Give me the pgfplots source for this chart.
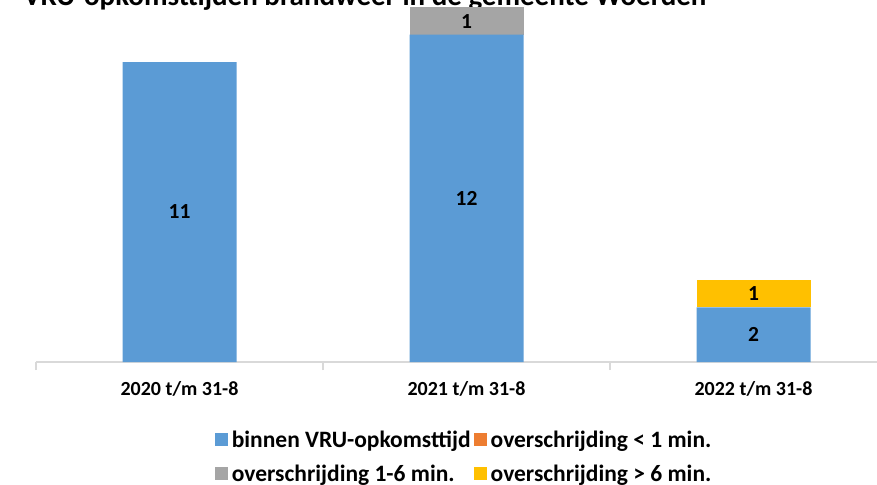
\documentclass[border=0pt]{standalone}
\usepackage{pgfplots}
\pgfplotsset{compat=1.18}
\usepackage{fontspec}
\setmainfont{Carlito}
\definecolor{cblue}{HTML}{5B9BD5}
\definecolor{corange}{HTML}{ED7D31}
\definecolor{cgrey}{HTML}{A5A5A5}
\definecolor{cyellow}{HTML}{FFC000}
\definecolor{caxis}{HTML}{D9D9D9}
\begin{document}
\begin{tikzpicture}[x=1pt,y=1pt]
\useasboundingbox (-36,-122) rectangle (841,362);
\clip (-36,-122) rectangle (841,362);
\node[anchor=base, font=\bfseries\fontsize{29}{34}\selectfont] at (329,356) {VRU-opkomsttijden brandweer in de gemeente Woerden};
\begin{axis}[
  at={(0pt,0pt)}, anchor=south west,
  scale only axis, width=861pt, height=381.8pt,
  ybar stacked, bar width=114pt,
  xmin=-0.5, xmax=2.5, ymin=0, ymax=14,
  axis x line*=bottom, axis y line=none,
  x axis line style={draw=caxis, line width=1.3pt, -},
  xtick={0,1,2},
  xticklabels={2020 t/m 31-8, 2021 t/m 31-8, 2022 t/m 31-8},
  major tick length=0pt,
  extra x ticks={-0.5,0.5,1.5,2.5},
  extra x tick labels={},
  extra x tick style={major tick length=8pt, tick align=outside, tick style={draw=caxis, line width=1.3pt}},
  xticklabel style={font=\bfseries\fontsize{20}{24}\selectfont, yshift=-16pt},
  /pgf/number format/assume math mode=true,
  point meta=explicit,
  nodes near coords={\pgfmathfloatifflags{\pgfplotspointmeta}{0}{}{\pgfmathprintnumber[int detect]{\pgfplotspointmeta}}},
  every node near coord/.append style={anchor=center, font=\bfseries\fontsize{21.5}{24}\selectfont},
  legend columns=2,
  legend cell align=left,
  legend style={draw=none, fill=none, at={(0.204,-0.17)}, anchor=north west,
    font=\bfseries\fontsize{23.5}{28}\selectfont, row sep=12pt,
    /tikz/every odd column/.append style={column sep=2pt},
    /tikz/every even column/.append style={column sep=1pt}},
  legend image code/.code={\fill[#1] (0pt,-6pt) rectangle (13pt,7pt);},
]
\addplot[fill=cblue, draw=none] coordinates {(0,11) [11] (1,12) [12] (2,2) [2]};
\addplot[fill=corange, draw=none] coordinates {(0,0) [0] (1,0) [0] (2,0) [0]};
\addplot[fill=cgrey, draw=none] coordinates {(0,0) [0] (1,1) [1] (2,0) [0]};
\addplot[fill=cyellow, draw=none] coordinates {(0,0) [0] (1,0) [0] (2,1) [1]};
\legend{binnen VRU-opkomsttijd, overschrijding < 1 min., overschrijding 1-6 min., overschrijding > 6 min.}
\end{axis}
\end{tikzpicture}
\end{document}
